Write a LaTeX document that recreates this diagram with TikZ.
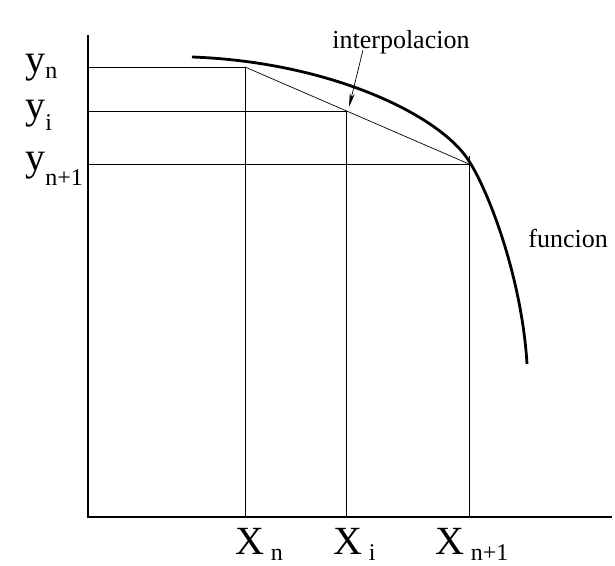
\documentclass[tikz,border=0pt]{standalone}
\usepackage{fontspec}
\setmainfont{Liberation Serif}
\usetikzlibrary{arrows.meta}

\newcommand{\bigtxt}{\fontsize{40}{40}\selectfont}
\newcommand{\subtxt}{\fontsize{24}{24}\selectfont}
\newcommand{\lbltxt}{\fontsize{26}{26}\selectfont}

\begin{document}
\begin{tikzpicture}[x=1pt, y=-1pt, line width=0.7pt,
    axis/.style={line width=2.6pt},
    curva/.style={line width=2.8pt},
    lbl/.style={anchor=base west, inner sep=0pt}]
  \useasboundingbox (0,0) rectangle (615,565);

  \coordinate (O)    at (88,517);
  \coordinate (Ytop) at (88,35);
  \coordinate (Xend) at (612,517);
  \coordinate (Yn)   at (88,67);
  \coordinate (Yi)   at (88,111);
  \coordinate (Yn1)  at (88,164);
  \coordinate (Pn)   at (245,67);
  \coordinate (Pi)   at (346,111);
  \coordinate (Pn1)  at (469,164);
  \coordinate (Xn)   at (245,517);
  \coordinate (Xi)   at (346,517);
  \coordinate (Xn1)  at (469,517);
  \coordinate (Fa)   at (192,57);
  \coordinate (Fb)   at (469,161);
  \coordinate (Fc)   at (527,364);

  % axes
  \draw[axis] (Ytop) -- (O) -- (Xend);

  % grid lines
  \draw (Yn) -- (Pn) -- (Xn);
  \draw (Yi) -- (Pi) -- (Xi);
  \draw (Yn1) -- (Pn1);
  \draw (469,156) -- (Xn1);

  % interpolation
  \draw (Pn) -- (Pn1);

  % function
  \draw[curva] (Fa) .. controls (330,62) and (440,115) .. (Fb)
                    .. controls (490,194) and (522,280) .. (Fc);

  \node[lbl] (ln)  at (25,72)  {\bigtxt y\raisebox{-6pt}{\subtxt n}};
  \node[lbl] (li)  at (25,118) {\bigtxt y\raisebox{-12pt}{\subtxt i}};
  \node[lbl] (ln1) at (25,170) {\bigtxt y\raisebox{-15pt}{\subtxt n+1}};

  \node[lbl] (xn)  at (235,554) {\bigtxt X\,\raisebox{-6pt}{\subtxt n}};
  \node[lbl] (xi)  at (333,554) {\bigtxt X\,\raisebox{-6pt}{\subtxt i}};
  \node[lbl] (xn1) at (435,554) {\bigtxt X\,\raisebox{-6pt}{\subtxt n+1}};

  \node[lbl] (interp) at (332,48)  {\lbltxt interpolacion};
  \node[lbl] (func)   at (528,247) {\lbltxt funcion};

  \draw[-{Stealth[length=14pt, width=5pt]}] (363,50) -- (349,107);
\end{tikzpicture}
\end{document}
